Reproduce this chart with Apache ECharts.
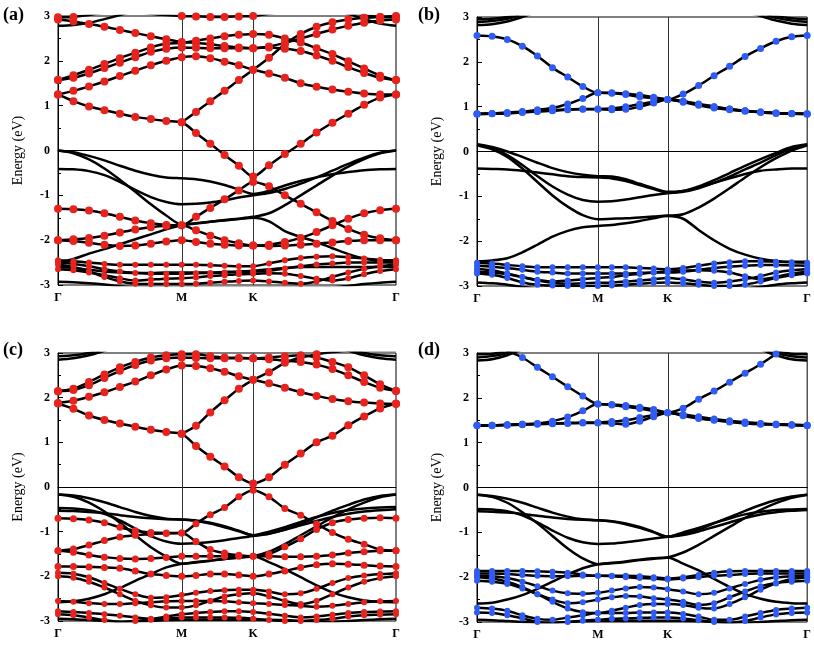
<!DOCTYPE html>
<html><head><meta charset="utf-8">
<script src="https://cdn.jsdelivr.net/npm/echarts@6/dist/echarts.min.js"></script>
<style>html,body{margin:0;padding:0;background:#fff}#c{width:814px;height:645px}</style>
</head><body><div id="c"></div>
<script>
// k-path positions (Γ-M-K-Γ, hexagonal BZ lengths)
const kPath = [0, 0.108, 0.217, 0.325, 0.433, 0.541, 0.650, 0.758, 0.866,
  0.966, 1.066, 1.166, 1.266, 1.366,
  1.477, 1.588, 1.699, 1.810, 1.921, 2.032, 2.143, 2.255, 2.366];
const kTicks = [0, 0.866, 1.366, 2.366];
const kLabels = ['Γ', 'M', 'K', 'Γ'];
const _ = null;

// ---------- panel (a) ----------
const aB1 = [0, -0.04, -0.12, -0.22, -0.34, -0.45, -0.54, -0.6, -0.62, -0.64, -0.69, -0.77, -0.87, -0.97, -0.9, -0.78, -0.68, -0.6, -0.53, -0.48, -0.44, -0.42, -0.41];
const aB2 = [0, -0.06, -0.2, -0.4, -0.65, -0.92, -1.2, -1.45, -1.65, -1.62, -1.59, -1.56, -1.53, -1.5, -1.58, -1.8, -1.93, -2.04, -2.18, -2.31, -2.41, -2.47, -2.49];
const aB3 = [-0.41, -0.42, -0.46, -0.55, -0.7, -0.88, -1.04, -1.15, -1.2, -1.19, -1.16, -1.11, -1.05, -1.0, -0.95, -0.86, -0.74, -0.6, -0.45, -0.3, -0.16, -0.05, 0];
const aB4 = [-2.5, -2.42, -2.3, -2.2, -2.09, -1.98, -1.87, -1.76, -1.67, -1.63, -1.59, -1.55, -1.52, -1.48, -1.4, -1.22, -1.0, -0.78, -0.56, -0.36, -0.19, -0.06, 0];
const aB5 = [-2.93, -2.94, -2.96, -2.99, -3.03, -3.05, -3.05, -3.05, -3.05, -3.05, -3.05, -3.05, -3.05, -3.05, -3.05, -3.05, -3.05, -3.05, -3.05, -3.02, -2.98, -2.95, -2.93];
const aB6 = [-2.6, -2.62, -2.66, -2.7, -2.72, -2.73, -2.73, -2.72, -2.72, -2.72, -2.72, -2.71, -2.7, -2.68, -2.65, -2.62, -2.6, -2.6, -2.6, -2.6, -2.6, -2.6, -2.6];
const aB7 = [2.78, 2.8, 2.85, 2.93, 3.02, 3.12, 3.2, 3.2, 3.2, 3.2, 3.2, 3.2, 3.2, 3.2, 3.2, 3.2, 3.2, 3.2, 3.15, 3.05, 2.93, 2.83, 2.78];
const aR1 = [1.25, 1.1, 0.98, 0.9, 0.82, 0.75, 0.7, 0.66, 0.63, 0.39, 0.15, -0.1, -0.34, -0.58, -0.33, -0.08, 0.15, 0.4, 0.62, 0.82, 1.02, 1.18, 1.25];
const aR2 = [1.25, 1.33, 1.43, 1.54, 1.66, 1.78, 1.9, 2.0, 2.08, 2.1, 2.06, 1.98, 1.9, 1.8, 1.72, 1.62, 1.5, 1.42, 1.36, 1.31, 1.27, 1.25, 1.25];
const aR3 = [_, _, _, _, _, _, _, _, 0.63, 0.86, 1.1, 1.33, 1.57, 1.8, 2.07, 2.37, 2.6, 2.76, 2.86, 2.92, 2.96, 2.98, 3.0];
const aR4 = [-1.3, -1.31, -1.34, -1.4, -1.48, -1.56, -1.62, -1.66, -1.67, -1.48, -1.28, -1.09, -0.89, -0.7, -0.8, -1.0, -1.19, -1.38, -1.57, -1.75, -1.88, -1.96, -2.0];
const aR5 = [-2.0, -1.98, -1.95, -1.9, -1.83, -1.76, -1.71, -1.68, -1.67, -1.78, -1.9, -2.0, -2.07, -2.12, -2.1, -2.04, -1.95, -1.82, -1.67, -1.52, -1.4, -1.33, -1.3];
const aR6 = [-2.0, -2.02, -2.06, -2.1, -2.13, -2.12, -2.08, -2.03, -2.0, -2.04, -2.08, -2.1, -2.12, -2.12, -2.13, -2.12, -2.1, -2.08, -2.05, -2.02, -2.0, -2.0, -2.0];
const aR7 = [-2.45, -2.47, -2.5, -2.53, -2.55, -2.55, -2.55, -2.55, -2.55, -2.55, -2.56, -2.57, -2.58, -2.58, -2.52, -2.45, -2.4, -2.37, -2.36, -2.38, -2.41, -2.44, -2.45];
const aR8 = [-2.5, -2.53, -2.58, -2.65, -2.7, -2.73, -2.75, -2.75, -2.75, -2.74, -2.73, -2.72, -2.71, -2.7, -2.68, -2.63, -2.58, -2.54, -2.52, -2.5, -2.5, -2.5, -2.5];
const aR9 = [-2.55, -2.6, -2.7, -2.82, -2.92, -2.97, -2.98, -2.98, -2.98, -2.97, -2.95, -2.93, -2.91, -2.9, -2.92, -2.95, -2.97, -2.92, -2.82, -2.72, -2.64, -2.58, -2.55];
const aR10 = [-2.65, -2.67, -2.72, -2.78, -2.85, -2.9, -2.88, -2.86, -2.85, -2.83, -2.8, -2.78, -2.76, -2.75, -2.74, -2.75, -2.8, -2.86, -2.9, -2.85, -2.76, -2.69, -2.65];
const aR11 = [2.92, 2.88, 2.82, 2.76, 2.69, 2.62, 2.55, 2.48, 2.42, 2.4, 2.37, 2.33, 2.3, 2.28, 2.32, 2.4, 2.5, 2.6, 2.7, 2.78, 2.85, 2.9, 2.92];
const aR12 = [1.57, 1.62, 1.72, 1.84, 1.96, 2.08, 2.2, 2.27, 2.3, 2.29, 2.28, 2.28, 2.28, 2.28, 2.3, 2.27, 2.22, 2.12, 2.0, 1.86, 1.73, 1.62, 1.57];
const aR13 = [1.57, 1.68, 1.8, 1.93, 2.06, 2.18, 2.3, 2.38, 2.4, 2.45, 2.5, 2.55, 2.58, 2.6, 2.58, 2.5, 2.41, 2.28, 2.15, 1.99, 1.83, 1.67, 1.57];
const aR14 = [2.97, 2.98, 3.02, 3.08, 3.1, 3.1, 3.05, 3.02, 3.0, 2.99, 2.98, 2.98, 2.99, 3.0, 3.05, 3.1, 3.1, 3.1, 3.1, 3.08, 3.02, 2.98, 2.97];

// ---------- panel (b) ----------
const bB1 = [0.16, 0.1, 0, -0.12, -0.25, -0.37, -0.46, -0.52, -0.55, -0.56, -0.62, -0.72, -0.82, -0.9, -0.88, -0.8, -0.7, -0.6, -0.5, -0.43, -0.4, -0.38, -0.38];
const bB2 = [-0.38, -0.39, -0.4, -0.43, -0.47, -0.51, -0.55, -0.57, -0.58, -0.6, -0.66, -0.75, -0.84, -0.92, -0.88, -0.78, -0.64, -0.48, -0.32, -0.17, -0.03, 0.1, 0.16];
const bB3 = [0.15, 0.08, -0.08, -0.3, -0.55, -0.78, -0.96, -1.08, -1.12, -1.11, -1.07, -1.02, -0.97, -0.93, -0.9, -0.82, -0.7, -0.56, -0.4, -0.25, -0.08, 0.06, 0.15];
const bB4 = [0.14, 0.05, -0.12, -0.38, -0.68, -0.98, -1.23, -1.42, -1.51, -1.5, -1.49, -1.47, -1.45, -1.43, -1.4, -1.25, -1.05, -0.82, -0.58, -0.35, -0.15, 0.02, 0.14];
const bB5 = [-2.45, -2.43, -2.38, -2.25, -2.08, -1.9, -1.77, -1.69, -1.66, -1.64, -1.6, -1.55, -1.49, -1.44, -1.5, -1.75, -1.98, -2.17, -2.3, -2.39, -2.44, -2.46, -2.46];
const bB6 = [-2.92, -2.94, -2.97, -3.02, -3.06, -3.08, -3.08, -3.08, -3.08, -3.08, -3.08, -3.08, -3.08, -3.08, -3.08, -3.08, -3.08, -3.08, -3.06, -3.02, -2.97, -2.94, -2.92];
const bT1 = [2.82, 2.84, 2.9, 3.0, 3.12, 3.2, 3.2, 3.2, 3.2, 3.2, 3.2, 3.2, 3.2, 3.2, 3.2, 3.2, 3.2, 3.2, 3.12, 3.02, 2.92, 2.85, 2.82];
const bT2 = [2.89, 2.91, 2.96, 3.05, 3.15, 3.2, 3.2, 3.2, 3.2, 3.2, 3.2, 3.2, 3.2, 3.2, 3.2, 3.2, 3.2, 3.2, 3.15, 3.07, 2.98, 2.92, 2.89];
const bT3 = [2.95, 2.96, 3.0, 3.08, 3.2, 3.2, 3.2, 3.2, 3.2, 3.2, 3.2, 3.2, 3.2, 3.2, 3.2, 3.2, 3.2, 3.2, 3.2, 3.1, 3.02, 2.97, 2.95];
const bU1 = [2.59, 2.57, 2.5, 2.35, 2.13, 1.87, 1.66, 1.45, 1.31, 1.31, 1.29, 1.26, 1.21, 1.16, 1.28, 1.47, 1.69, 1.9, 2.12, 2.3, 2.46, 2.56, 2.59];
const bU2 = [0.84, 0.85, 0.87, 0.89, 0.93, 0.97, 1.06, 1.18, 1.31, 1.3, 1.27, 1.22, 1.19, 1.16, 1.12, 1.05, 1.0, 0.95, 0.91, 0.88, 0.86, 0.85, 0.84];
const bU3 = [0.84, 0.85, 0.86, 0.88, 0.9, 0.92, 0.94, 0.95, 0.95, 0.96, 1.0, 1.06, 1.11, 1.16, 1.12, 1.06, 1.0, 0.95, 0.91, 0.88, 0.86, 0.85, 0.84];
const bU4 = [0.83, 0.84, 0.85, 0.87, 0.89, 0.91, 0.93, 0.94, 0.94, 0.93, 0.94, 1.0, 1.08, 1.16, 1.1, 1.03, 0.97, 0.93, 0.9, 0.87, 0.85, 0.84, 0.83];
const bL1 = [-2.48, -2.5, -2.53, -2.56, -2.58, -2.58, -2.58, -2.58, -2.58, -2.58, -2.58, -2.6, -2.61, -2.63, -2.6, -2.55, -2.5, -2.47, -2.45, -2.45, -2.46, -2.47, -2.48];
const bL2 = [-2.55, -2.57, -2.6, -2.64, -2.68, -2.7, -2.72, -2.72, -2.72, -2.72, -2.72, -2.71, -2.7, -2.7, -2.68, -2.64, -2.6, -2.57, -2.55, -2.53, -2.53, -2.54, -2.55];
const bL3 = [-2.62, -2.65, -2.72, -2.8, -2.88, -2.93, -2.95, -2.94, -2.93, -2.92, -2.9, -2.88, -2.85, -2.82, -2.85, -2.9, -2.93, -2.9, -2.85, -2.78, -2.7, -2.65, -2.62];
const bL4 = [-2.68, -2.7, -2.74, -2.8, -2.86, -2.9, -2.88, -2.85, -2.82, -2.8, -2.76, -2.73, -2.7, -2.68, -2.66, -2.65, -2.66, -2.7, -2.78, -2.85, -2.8, -2.72, -2.68];
const bL5 = [-2.72, -2.75, -2.82, -2.92, -2.97, -2.99, -3.0, -3.0, -3.0, -2.99, -2.97, -2.95, -2.93, -2.92, -2.94, -2.97, -3.0, -3.0, -2.97, -2.9, -2.82, -2.76, -2.72];

// ---------- panel (c) ----------
const cB1 = [-0.17, -0.19, -0.25, -0.34, -0.45, -0.56, -0.65, -0.71, -0.73, -0.75, -0.8, -0.88, -0.98, -1.08, -1.04, -0.96, -0.86, -0.76, -0.67, -0.6, -0.55, -0.52, -0.5];
const cB2 = [-0.17, -0.22, -0.35, -0.55, -0.8, -1.08, -1.35, -1.56, -1.72, -1.68, -1.65, -1.61, -1.58, -1.55, -1.68, -1.84, -2.02, -2.2, -2.36, -2.47, -2.54, -2.57, -2.58];
const cB3 = [-0.47, -0.48, -0.52, -0.6, -0.75, -0.93, -1.1, -1.22, -1.27, -1.26, -1.23, -1.19, -1.14, -1.1, -1.05, -0.95, -0.82, -0.68, -0.53, -0.4, -0.28, -0.2, -0.17];
const cB4 = [-0.53, -0.54, -0.56, -0.59, -0.63, -0.67, -0.7, -0.72, -0.73, -0.76, -0.82, -0.9, -0.99, -1.08, -1.0, -0.9, -0.78, -0.67, -0.58, -0.52, -0.48, -0.46, -0.45];
const cB5 = [-2.58, -2.56, -2.5, -2.4, -2.26, -2.1, -1.95, -1.8, -1.72, -1.69, -1.65, -1.61, -1.58, -1.55, -1.45, -1.28, -1.08, -0.88, -0.68, -0.5, -0.35, -0.23, -0.17];
const cB6 = [-2.95, -2.96, -2.98, -3.0, -3.02, -3.02, -3.0, -2.98, -2.97, -2.97, -2.97, -2.97, -2.97, -2.97, -2.97, -2.98, -3.0, -3.02, -3.02, -3.0, -2.98, -2.96, -2.95];
const cT1 = [2.85, 2.88, 2.95, 3.05, 3.15, 3.2, 3.2, 3.2, 3.2, 3.2, 3.2, 3.2, 3.2, 3.2, 3.2, 3.2, 3.2, 3.2, 3.15, 3.05, 2.95, 2.88, 2.85];
const cT2 = [2.93, 2.95, 3.0, 3.1, 3.2, 3.2, 3.2, 3.2, 3.2, 3.2, 3.2, 3.2, 3.2, 3.2, 3.2, 3.2, 3.2, 3.2, 3.2, 3.1, 3.0, 2.95, 2.93];
const cR1 = [1.87, 1.75, 1.6, 1.5, 1.42, 1.35, 1.28, 1.23, 1.19, 0.92, 0.68, 0.46, 0.22, 0.08, 0.22, 0.5, 0.75, 1.0, 1.15, 1.38, 1.58, 1.76, 1.87];
const cR2 = [1.88, 1.93, 2.02, 2.12, 2.24, 2.36, 2.5, 2.63, 2.72, 2.71, 2.66, 2.58, 2.48, 2.4, 2.32, 2.22, 2.12, 2.04, 1.97, 1.92, 1.89, 1.87, 1.86];
const cR3 = [_, _, _, _, _, _, _, _, 1.19, 1.37, 1.67, 1.94, 2.2, 2.4, 2.57, 2.78, 2.9, 2.97, 3.02, 3.05, 3.05, 3.05, 3.05];
const cR4 = [2.14, 2.17, 2.28, 2.44, 2.6, 2.73, 2.83, 2.88, 2.9, 2.89, 2.88, 2.88, 2.88, 2.88, 2.9, 2.93, 2.95, 2.9, 2.8, 2.68, 2.5, 2.3, 2.15];
const cR5 = [2.15, 2.2, 2.35, 2.52, 2.68, 2.8, 2.9, 2.95, 2.97, 2.97, 2.93, 2.9, 2.89, 2.88, 2.86, 2.83, 2.8, 2.74, 2.64, 2.5, 2.35, 2.22, 2.15];
const cR6 = [-0.7, -0.71, -0.74, -0.8, -0.9, -0.98, -1.02, -1.03, -1.03, -0.82, -0.62, -0.46, -0.22, -0.07, -0.22, -0.48, -0.63, -0.83, -1.02, -1.17, -1.28, -1.4, -1.43];
const cR7 = [-1.43, -1.39, -1.3, -1.2, -1.12, -1.08, -1.05, -1.04, -1.03, -1.22, -1.4, -1.48, -1.53, -1.55, -1.5, -1.34, -1.16, -0.95, -0.8, -0.73, -0.7, -0.69, -0.7];
const cR8 = [-1.43, -1.46, -1.52, -1.57, -1.6, -1.61, -1.6, -1.58, -1.55, -1.55, -1.55, -1.55, -1.55, -1.55, -1.55, -1.56, -1.56, -1.55, -1.52, -1.48, -1.45, -1.43, -1.42];
const cR9 = [-1.78, -1.78, -1.79, -1.8, -1.82, -1.88, -1.95, -1.98, -2.0, -1.98, -1.95, -1.95, -1.97, -2.0, -1.95, -1.88, -1.8, -1.74, -1.72, -1.73, -1.75, -1.77, -1.78];
const cR10 = [-1.92, -1.94, -2.02, -2.15, -2.28, -2.4, -2.48, -2.47, -2.42, -2.37, -2.33, -2.31, -2.3, -2.3, -2.34, -2.4, -2.38, -2.28, -2.15, -2.04, -1.98, -1.95, -1.93];
const cR11 = [-2.0, -2.03, -2.12, -2.25, -2.4, -2.55, -2.65, -2.7, -2.7, -2.65, -2.55, -2.45, -2.4, -2.38, -2.45, -2.55, -2.62, -2.55, -2.4, -2.25, -2.12, -2.04, -2.0];
const cR12 = [-2.78, -2.8, -2.82, -2.85, -2.88, -2.92, -2.95, -2.9, -2.85, -2.82, -2.8, -2.78, -2.78, -2.8, -2.84, -2.88, -2.92, -2.9, -2.86, -2.82, -2.8, -2.79, -2.78];
const cR13 = [-2.85, -2.87, -2.92, -2.98, -3.02, -3.0, -2.97, -2.95, -2.92, -2.92, -2.92, -2.92, -2.93, -2.95, -2.98, -3.0, -3.0, -2.98, -2.95, -2.9, -2.87, -2.86, -2.85];
const cR14 = [-2.55, -2.57, -2.6, -2.62, -2.62, -2.6, -2.58, -2.56, -2.55, -2.55, -2.55, -2.56, -2.58, -2.6, -2.62, -2.64, -2.66, -2.68, -2.66, -2.62, -2.58, -2.56, -2.55];

// ---------- panel (d) ----------
const dB1 = [-0.16, -0.19, -0.25, -0.34, -0.45, -0.56, -0.65, -0.71, -0.73, -0.75, -0.8, -0.88, -0.99, -1.1, -1.06, -0.98, -0.88, -0.78, -0.68, -0.6, -0.55, -0.52, -0.5];
const dB2 = [-0.16, -0.21, -0.34, -0.55, -0.8, -1.08, -1.36, -1.58, -1.71, -1.69, -1.66, -1.62, -1.59, -1.56, -1.7, -1.85, -2.04, -2.22, -2.38, -2.48, -2.55, -2.58, -2.59];
const dB3 = [-0.48, -0.49, -0.53, -0.62, -0.78, -0.96, -1.12, -1.22, -1.26, -1.25, -1.22, -1.18, -1.14, -1.1, -1.04, -0.94, -0.8, -0.66, -0.52, -0.39, -0.28, -0.2, -0.16];
const dB4 = [-0.53, -0.54, -0.56, -0.59, -0.63, -0.67, -0.7, -0.72, -0.73, -0.76, -0.82, -0.9, -1.0, -1.1, -1.0, -0.9, -0.79, -0.69, -0.6, -0.54, -0.5, -0.49, -0.48];
const dB5 = [-2.59, -2.57, -2.5, -2.4, -2.26, -2.1, -1.94, -1.8, -1.71, -1.68, -1.65, -1.61, -1.58, -1.56, -1.45, -1.28, -1.08, -0.88, -0.68, -0.5, -0.35, -0.23, -0.16];
const dB6 = [-2.95, -2.96, -2.98, -3.0, -3.02, -3.02, -3.0, -2.98, -2.97, -2.97, -2.97, -2.97, -2.97, -2.97, -2.97, -2.98, -3.0, -3.02, -3.02, -3.0, -2.98, -2.96, -2.95];
const dT1 = [2.83, 2.86, 2.95, 3.08, 3.2, 3.2, 3.2, 3.2, 3.2, 3.2, 3.2, 3.2, 3.2, 3.2, 3.2, 3.2, 3.2, 3.2, 3.2, 3.08, 2.95, 2.86, 2.83];
const dT2 = [2.9, 2.93, 3.0, 3.12, 3.2, 3.2, 3.2, 3.2, 3.2, 3.2, 3.2, 3.2, 3.2, 3.2, 3.2, 3.2, 3.2, 3.2, 3.2, 3.12, 3.0, 2.93, 2.9];
const dT3 = [2.97, 2.98, 3.05, 3.15, 3.2, 3.2, 3.2, 3.2, 3.2, 3.2, 3.2, 3.2, 3.2, 3.2, 3.2, 3.2, 3.2, 3.2, 3.2, 3.15, 3.05, 2.98, 2.97];
const dU1 = [3.45, 3.25, 3.05, 2.9, 2.68, 2.47, 2.25, 2.04, 1.86, 1.85, 1.83, 1.79, 1.74, 1.67, 1.77, 1.97, 2.15, 2.35, 2.55, 2.75, 2.98, 3.2, 3.4];
const dU2 = [1.39, 1.39, 1.4, 1.41, 1.43, 1.48, 1.57, 1.71, 1.86, 1.84, 1.8, 1.76, 1.71, 1.67, 1.63, 1.58, 1.53, 1.49, 1.46, 1.43, 1.41, 1.4, 1.39];
const dU3 = [1.39, 1.39, 1.4, 1.41, 1.42, 1.43, 1.44, 1.45, 1.45, 1.47, 1.5, 1.56, 1.62, 1.67, 1.62, 1.56, 1.51, 1.47, 1.44, 1.42, 1.41, 1.4, 1.39];
const dU4 = [1.38, 1.38, 1.39, 1.4, 1.41, 1.42, 1.43, 1.44, 1.44, 1.43, 1.41, 1.48, 1.58, 1.67, 1.6, 1.54, 1.5, 1.46, 1.43, 1.41, 1.4, 1.39, 1.38];
const dL1 = [-1.86, -1.86, -1.86, -1.86, -1.87, -1.88, -1.9, -1.94, -1.97, -1.97, -1.97, -1.98, -2.0, -2.03, -2.0, -1.95, -1.9, -1.87, -1.86, -1.86, -1.86, -1.86, -1.86];
const dL2 = [-1.97, -1.98, -2.02, -2.1, -2.2, -2.3, -2.36, -2.37, -2.35, -2.3, -2.25, -2.22, -2.23, -2.27, -2.32, -2.38, -2.35, -2.25, -2.15, -2.06, -2.01, -1.98, -1.97];
const dL3 = [-2.08, -2.1, -2.15, -2.25, -2.38, -2.5, -2.58, -2.56, -2.5, -2.45, -2.42, -2.43, -2.47, -2.5, -2.55, -2.62, -2.58, -2.45, -2.32, -2.2, -2.13, -2.1, -2.08];
const dL4 = [-2.0, -2.03, -2.1, -2.22, -2.38, -2.55, -2.7, -2.78, -2.8, -2.75, -2.68, -2.62, -2.6, -2.6, -2.62, -2.68, -2.7, -2.6, -2.45, -2.28, -2.14, -2.04, -2.0];
const dL5 = [-2.68, -2.7, -2.75, -2.85, -2.93, -2.95, -2.9, -2.85, -2.8, -2.8, -2.8, -2.79, -2.79, -2.79, -2.82, -2.88, -2.95, -2.95, -2.88, -2.8, -2.73, -2.7, -2.68];
const dL6 = [-2.79, -2.8, -2.85, -2.92, -3.0, -3.02, -3.0, -2.97, -2.95, -2.93, -2.92, -2.91, -2.9, -2.9, -2.92, -2.96, -3.0, -3.02, -2.98, -2.9, -2.83, -2.8, -2.79];
const dL7 = [-1.92, -1.92, -1.93, -1.95, -1.97, -1.98, -1.98, -1.97, -1.97, -1.98, -2.0, -2.02, -2.03, -2.05, -2.03, -2.0, -1.97, -1.95, -1.93, -1.92, -1.92, -1.92, -1.92];

const RED = '#e8231e', BLUE = '#2f5cf6';
const FONT = 'Liberation Serif';

const panels = [
  { label: '(a)', lx: 3, ly: 6, grid: {left: 58, top: 16, width: 338, height: 269},
    black: [aB1, aB2, aB3, aB4, aB5, aB6, aB7],
    dots: [aR1, aR2, aR3, aR4, aR5, aR6, aR7, aR8, aR9, aR10, aR11, aR12, aR13, aR14],
    sizes: [8, 8, 8, 8, 8, 8, 6, 6, 6, 6, 8, 8, 8, 8], color: RED },
  { label: '(b)', lx: 418, ly: 6, grid: {left: 477, top: 17, width: 336, height: 269},
    black: [bB1, bB2, bB3, bB4, bB5, bB6, bT1, bT2, bT3],
    dots: [bU1, bU2, bU3, bU4, bL1, bL2, bL3, bL4, bL5],
    sizes: [7, 7, 7, 7, 6, 6, 6, 6, 6], color: BLUE },
  { label: '(c)', lx: 3, ly: 341, grid: {left: 58, top: 353, width: 338, height: 268},
    black: [cB1, cB2, cB3, cB4, cB5, cB6, cT1, cT2],
    dots: [cR1, cR2, cR3, cR4, cR5, cR6, cR7, cR8, cR9, cR10, cR11, cR12, cR13, cR14],
    sizes: [8, 8, 8, 8, 8, 7, 7, 7, 7, 6, 6, 6, 6, 6], color: RED },
  { label: '(d)', lx: 418, ly: 341, grid: {left: 477, top: 353, width: 336, height: 269},
    black: [dB1, dB2, dB3, dB4, dB5, dB6, dT1, dT2, dT3],
    dots: [dU1, dU2, dU3, dU4, dL1, dL2, dL3, dL4, dL5, dL6, dL7],
    sizes: [7, 7, 7, 7, 6, 6, 6, 6, 6, 6, 6], color: BLUE }
];

const toPts = band => kPath.map((k, j) => [k, band[j]]);
const grids = [], xAxes = [], yAxes = [], series = [], graphics = [];
panels.forEach((p, i) => {
  grids.push(Object.assign({show: true, borderColor: '#000', borderWidth: 1, backgroundColor: 'transparent'}, p.grid));
  xAxes.push({
    gridIndex: i, type: 'value', min: kTicks[0], max: kTicks[3],
    axisLine: {show: true, lineStyle: {color: '#000', width: 1}},
    axisTick: {show: false}, splitLine: {show: false},
    axisLabel: {customValues: kTicks, formatter: v => { const n = kTicks.indexOf(v); return n >= 0 ? kLabels[n] : ''; },
      fontFamily: FONT, fontWeight: 'bold', fontSize: 12, color: '#000', margin: 7}
  });
  yAxes.push({
    gridIndex: i, type: 'value', min: -3, max: 3, interval: 1,
    name: 'Energy (eV)', nameLocation: 'middle', nameGap: 33, nameRotate: 90,
    nameTextStyle: {fontFamily: FONT, fontSize: 14, color: '#000'},
    axisLine: {show: true, lineStyle: {color: '#000', width: 1}},
    axisTick: {show: true, inside: true, length: 5, lineStyle: {color: '#000'}},
    minorTick: {show: true, splitNumber: 2, length: 3, lineStyle: {color: '#000'}},
    splitLine: {show: false},
    axisLabel: {fontFamily: FONT, fontWeight: 'bold', fontSize: 12, color: '#000', margin: 8}
  });
  p.black.forEach((b, j) => {
    const s = {
      type: 'line', xAxisIndex: i, yAxisIndex: i, data: toPts(b), smooth: 0.3,
      showSymbol: false, silent: true, clip: true, z: 2,
      lineStyle: {color: '#000', width: 2.5}
    };
    if (j === 0) {
      s.markLine = {
        silent: true, symbol: ['none', 'none'], label: {show: false}, z: 1,
        data: [
          {xAxis: kTicks[1], lineStyle: {type: 'solid', color: '#333', width: 1}},
          {xAxis: kTicks[2], lineStyle: {type: 'solid', color: '#333', width: 1}},
          {yAxis: 0, lineStyle: {type: [4, 3], color: '#000', width: 1}}
        ]
      };
    }
    series.push(s);
  });
  p.dots.forEach((b, j) => {
    series.push({
      type: 'line', xAxisIndex: i, yAxisIndex: i, data: toPts(b), smooth: 0.3,
      showSymbol: true, showAllSymbol: true, symbol: 'circle', symbolSize: p.sizes[j],
      silent: true, clip: true, z: 3,
      lineStyle: {color: '#000', width: 2.5},
      itemStyle: {color: p.color, borderWidth: 0}
    });
  });
  graphics.push({type: 'text', left: p.lx, top: p.ly,
    style: {text: p.label, font: 'bold 18px "Liberation Serif"', fill: '#000'}});
});

const chart = echarts.init(document.getElementById('c'), null, {renderer: 'canvas'});
chart.setOption({
  animation: false,
  backgroundColor: '#fff',
  grid: grids, xAxis: xAxes, yAxis: yAxes, series: series, graphic: graphics
});
</script>
</body></html>
